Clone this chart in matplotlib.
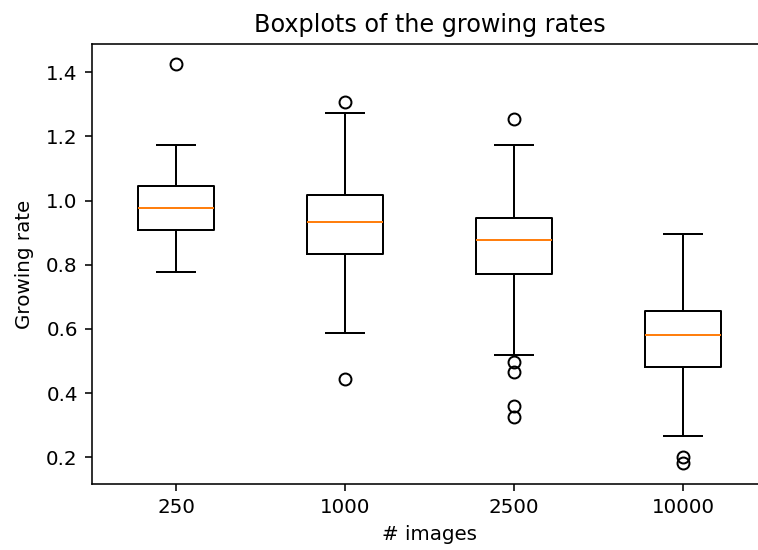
import matplotlib
matplotlib.use("Agg")
import matplotlib.pyplot as plt

labels = ["250", "1000", "2500", "10000"]
whislo = [0.777, 0.588, 0.519, 0.267]
q1 = [0.908, 0.834, 0.771, 0.481]
med = [0.978, 0.934, 0.876, 0.581]
q3 = [1.046, 1.017, 0.947, 0.657]
whishi = [1.172, 1.274, 1.173, 0.896]
fliers = [[1.425],
          [1.306, 0.444],
          [1.254, 0.497, 0.467, 0.360, 0.325],
          [0.202, 0.181]]

stats = []
for i in range(len(labels)):
    stats.append(dict(label=labels[i], whislo=whislo[i], q1=q1[i], med=med[i],
                      q3=q3[i], whishi=whishi[i], fliers=fliers[i]))

fig = plt.figure(figsize=(758 / 143, 550 / 143), dpi=143)
# the original was cropped on the right, so the axes run past the edge
ax = fig.add_axes([0.121, 0.1205, 0.8918, 0.799])
ax.bxp(stats, showmeans=False)
ax.set_xlim(0.5, 4.5)
ax.set_ylim(0.1177, 1.487)
ax.spines["right"].set_visible(False)
ax.set_title("Boxplots of the growing rates")
ax.set_xlabel("# images")
ax.set_ylabel("Growing rate", labelpad=6)
fig.savefig("out.png", dpi=143)
